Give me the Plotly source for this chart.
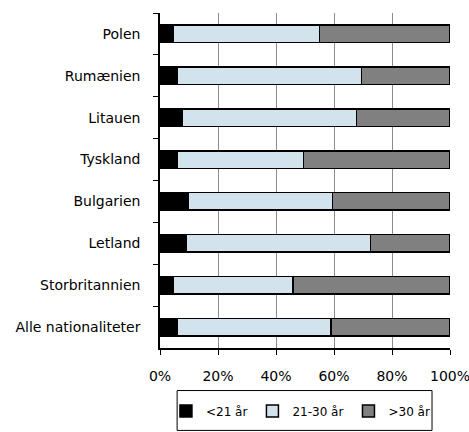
import plotly.graph_objects as go

# andel efter alder, pct.
lande = ['Polen', 'Rumænien', 'Litauen', 'Tyskland', 'Bulgarien',
         'Letland', 'Storbritannien', 'Alle nationaliteter']
under21 = [4.6, 5.9, 7.8, 5.8, 9.7, 9.2, 4.6, 6.0]
fra21til30 = [50.4, 63.5, 59.9, 43.6, 49.7, 63.3, 41.2, 53.0]
over30 = [45.0, 30.6, 32.3, 50.6, 40.6, 27.5, 54.2, 41.0]

serier = [('<21 år', under21, '#000000'),
          ('21-30 år', fra21til30, '#d3e3ed'),
          ('>30 år', over30, '#808080')]

fig = go.Figure()
for navn, vaerdier, farve in serier:
    fig.add_trace(go.Bar(y=lande, x=vaerdier, name=navn, orientation='h',
                         marker=dict(color=farve, line=dict(color='black', width=1.5))))

fig.update_layout(
    width=469, height=432,
    barmode='stack', bargap=0.58,
    plot_bgcolor='white', paper_bgcolor='white',
    font=dict(family='DejaVu Sans', size=14, color='black'),
    margin=dict(l=160, r=19, t=13, b=84, autoexpand=False),
    showlegend=True,
    legend=dict(orientation='h', x=0.486, xanchor='center', y=-0.188, yanchor='middle',
                borderwidth=0, bgcolor='rgba(0,0,0,0)', font=dict(size=12),
                itemwidth=30, traceorder='normal'),
    # ramme om forklaringen
    shapes=[dict(type='rect', xref='paper', yref='paper',
                 x0=0.059, x1=0.938, y0=-0.246, y1=-0.127,
                 line=dict(color='black', width=1))],
)
fig.update_xaxes(range=[0, 100], dtick=20, ticksuffix='%', automargin=False,
                 showgrid=True, gridcolor='#8c8c8c', gridwidth=1,
                 showline=True, linecolor='black', linewidth=1.5,
                 ticks='outside', ticklen=5, tickcolor='black',
                 ticklabelstandoff=9, ticklabeloverflow='allow', zeroline=False)
fig.update_yaxes(autorange='reversed', showgrid=False, automargin=False,
                 showline=True, linecolor='black', linewidth=1.5,
                 ticks='outside', ticklen=5, tickcolor='black', tickson='boundaries',
                 ticklabelstandoff=15)

# siden har 8px margin i body som standard
fig.write_html('out.html', config={'displayModeBar': False},
               post_script="document.body.style.margin='0px';")
